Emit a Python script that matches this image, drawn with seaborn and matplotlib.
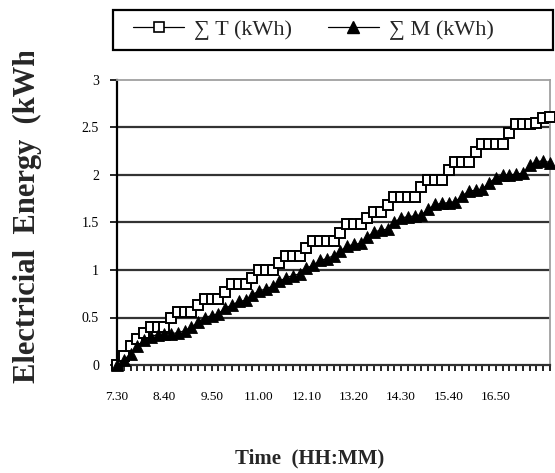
import matplotlib
matplotlib.use("Agg")
import matplotlib.pyplot as plt
import seaborn as sns
import pandas as pd
from matplotlib.lines import Line2D
from matplotlib.patches import Rectangle
from matplotlib.transforms import Bbox

# ---- data (10-minute samples from 7:30) ----
sum_T = [0, 0.1, 0.2, 0.27, 0.34, 0.4, 0.4, 0.4, 0.5, 0.56,
         0.56, 0.56, 0.63, 0.69, 0.69, 0.69, 0.77, 0.85, 0.85, 0.85,
         0.92, 1.0, 1.0, 1.0, 1.07, 1.15, 1.15, 1.15, 1.23, 1.31,
         1.31, 1.31, 1.31, 1.39, 1.48, 1.48, 1.48, 1.55, 1.61, 1.61,
         1.68, 1.77, 1.77, 1.77, 1.77, 1.87, 1.95, 1.95, 1.95, 2.05,
         2.14, 2.14, 2.14, 2.24, 2.33, 2.33, 2.33, 2.33, 2.44, 2.54,
         2.54, 2.54, 2.55, 2.6, 2.61]
sum_M = [0, 0.05, 0.12, 0.2, 0.26, 0.3, 0.32, 0.33, 0.33, 0.34,
         0.36, 0.4, 0.45, 0.5, 0.52, 0.54, 0.6, 0.63, 0.67, 0.68,
         0.74, 0.78, 0.8, 0.83, 0.88, 0.92, 0.94, 0.96, 1.02, 1.05,
         1.1, 1.12, 1.15, 1.2, 1.25, 1.27, 1.28, 1.35, 1.4, 1.42,
         1.43, 1.5, 1.55, 1.56, 1.57, 1.58, 1.64, 1.69, 1.7, 1.71,
         1.72, 1.78, 1.83, 1.84, 1.85, 1.92, 1.97, 2.0, 2.0, 2.01,
         2.02, 2.1, 2.14, 2.15, 2.13]
time_tick_labels = ["7.30", "8.40", "9.50", "11.00", "12.10",
                    "13.20", "14.30", "15.40", "16.50"]
label_step = 7
y_ticks = [0, 0.5, 1, 1.5, 2, 2.5, 3]
y_tick_labels = ["0", "0.5", "1", "1.5", "2", "2.5", "3"]
series_names = ["\u2211 T (kWh)", "\u2211 M (kWh)"]

sns.set_theme(style="white")
plt.rcParams['font.family'] = ['Liberation Serif', 'DejaVu Serif']

W, H = 555, 473
fig = plt.figure(figsize=(W / 100, H / 100), dpi=100)
fig.patch.set_facecolor('white')
L, R, TOP, BOT = 117, 550, 80, 365
ax = fig.add_axes([L / W, 1 - BOT / H, (R - L) / W, (BOT - TOP) / H])
ax.set_facecolor('white')

n = len(sum_T)
df = pd.DataFrame({"idx": list(range(n)), "T": sum_T, "M": sum_M})

# gridlines
for yv in y_ticks[1:-1]:
    ax.axhline(yv, color='#333333', linewidth=1.6, zorder=1)

sns.lineplot(data=df, x="idx", y="T", ax=ax, color='black', linewidth=0.9,
             marker='s', markersize=7, markerfacecolor='white',
             markeredgecolor='black', markeredgewidth=1.4,
             clip_on=False, zorder=3)
sns.lineplot(data=df, x="idx", y="M", ax=ax, color='black', linewidth=0.9,
             marker='^', markersize=8.5, markerfacecolor='black',
             markeredgecolor='black', markeredgewidth=0.6,
             clip_on=False, zorder=4)

ax.set_xlim(0, n - 1)
ax.set_ylim(0, 3)
ax.set_xlabel("")
ax.set_ylabel("")

xlabels = [''] * n
for k, lab in enumerate(time_tick_labels):
    pos = k * label_step
    if pos < n:
        xlabels[pos] = lab
ax.set_xticks(list(range(n)))
ax.set_xticklabels(xlabels)
ax.set_yticks(y_ticks)
ax.set_yticklabels(y_tick_labels)
ax.tick_params(axis='x', bottom=True, length=4, width=1.2, direction='out',
               pad=15, labelsize=9.5, color='black', labelcolor='black')
ax.tick_params(axis='y', left=True, length=5, width=1.2, direction='out',
               pad=8, labelsize=10, color='black', labelcolor='black')

for side in ['top', 'right']:
    ax.spines[side].set_color('#a0a0a0')
    ax.spines[side].set_linewidth(1.3)
ax.spines['left'].set_color('black')
ax.spines['left'].set_linewidth(1.6)
ax.spines['bottom'].set_color('#303030')
ax.spines['bottom'].set_linewidth(1.6)

# legend box
fig.add_artist(Rectangle((113 / W, 1 - 50 / H), 440 / W, 40 / H,
                         transform=fig.transFigure, fill=False,
                         edgecolor='black', linewidth=1.6))
handles = [
    Line2D([], [], color='black', linewidth=0.9, marker='s', markersize=7,
           markerfacecolor='white', markeredgecolor='black', markeredgewidth=1.2),
    Line2D([], [], color='black', linewidth=0.9, marker='^', markersize=8,
           markerfacecolor='black', markeredgecolor='black'),
]
fig.legend(handles, series_names, loc='center left',
           bbox_to_anchor=(133 / W, 1 - 30 / H), ncol=2, frameon=False,
           fontsize=16, handlelength=2.3, handletextpad=0.45,
           columnspacing=1.6, borderpad=0, borderaxespad=0)

fig.text(310 / W, 1 - 463 / H, "Time  (HH:MM)", ha='center', va='baseline',
         fontsize=15, fontweight='bold')
yl = fig.text(35 / W, 1 - 383 / H, "Electricial  Energy  (kWh)", rotation=90,
              rotation_mode='anchor', ha='left', va='baseline',
              fontsize=22, fontweight='bold')
yl.set_clip_box(Bbox.from_extents(0, 0, W, H - 52))
yl.set_clip_on(True)

fig.savefig('out.png', dpi=100)
